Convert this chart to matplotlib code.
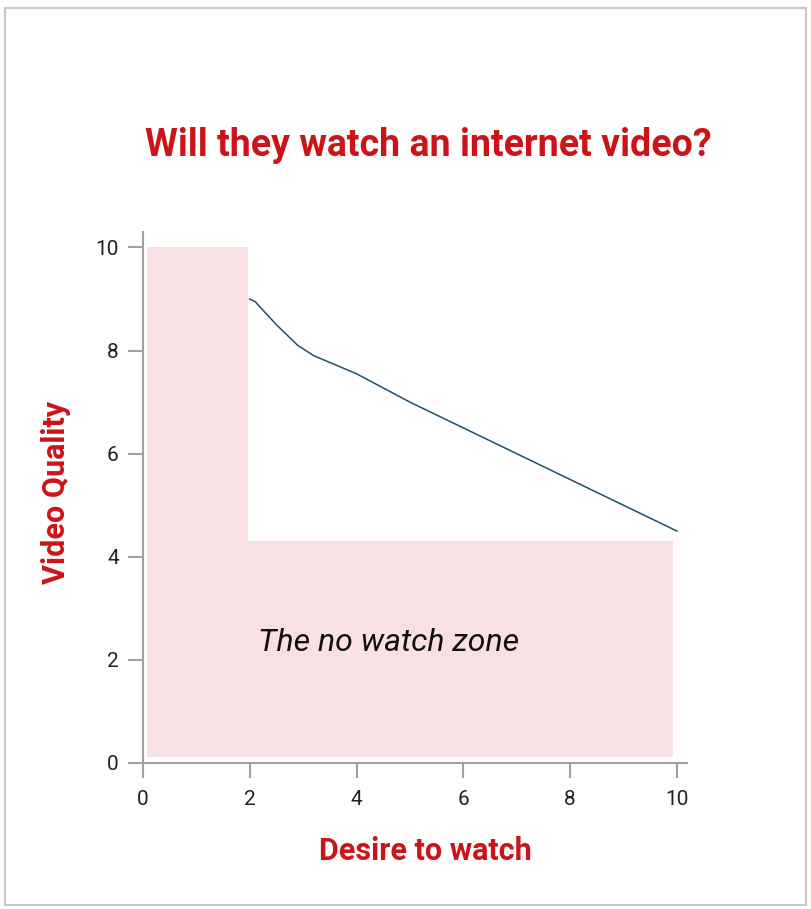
import matplotlib
matplotlib.use("Agg")
import matplotlib.pyplot as plt
from matplotlib.patches import Rectangle

# ---------------------------------------------------------------------------
# Data
# ---------------------------------------------------------------------------

# L-shaped "no watch zone": (x0, x1, y0, y1) for the two blocks
zone_x0 = [0.08, 1.97]
zone_x1 = [1.97, 9.93]
zone_y0 = [0.12, 0.12]
zone_y1 = [10.0, 4.3]

# threshold curve
desire = [2.0, 2.1, 2.5, 2.9, 3.2, 4.0, 5.0, 6.0, 7.0, 8.0, 9.0, 10.0]
quality = [9.0, 8.95, 8.5, 8.1, 7.9, 7.55, 7.0, 6.5, 6.0, 5.5, 5.0, 4.5]

ticks = [0, 2, 4, 6, 8, 10]

RED = "#cc1418"
PINK = "#f7e1e3"
GREY = "#a0a0a0"
COND = dict(family="Roboto", fontstretch="condensed")

# ---------------------------------------------------------------------------
# Figure
# ---------------------------------------------------------------------------

fig = plt.figure(figsize=(8.11, 9.09), dpi=100)
fig.patches.append(Rectangle((5 / 811, 4 / 909), 801 / 811, 897 / 909,
                             transform=fig.transFigure, fill=False,
                             edgecolor="#c8c8c8", linewidth=1.5))

ax = fig.add_axes([143 / 811, (909 - 763) / 909, (687 - 143) / 811, (763 - 232) / 909])
ax.set_xlim(0, 10.19)
ax.set_ylim(0, 10.3)

for x0, x1, y0, y1 in zip(zone_x0, zone_x1, zone_y0, zone_y1):
    ax.add_patch(Rectangle((x0, y0), x1 - x0, y1 - y0, facecolor=PINK,
                           edgecolor="none", zorder=0))

ax.plot(desire, quality, color="#1d4f6e", linewidth=1.1)

ax.text(4.6, 2.33, "The no watch zone", ha="center", va="center",
        fontsize=23, style="italic", color="#111111", **COND)

for side in ["top", "right"]:
    ax.spines[side].set_visible(False)
for side in ["left", "bottom"]:
    ax.spines[side].set_color(GREY)
    ax.spines[side].set_linewidth(1.5)

ax.set_xticks(ticks)
ax.set_yticks(ticks)
ax.tick_params(direction="out", length=10.5, width=1.5, color=GREY,
               labelcolor="#222222")
ax.tick_params(axis="x", pad=9)
ax.tick_params(axis="y", pad=7)
for lab in ax.get_xticklabels() + ax.get_yticklabels():
    lab.set_fontsize(15)
    lab.set_family("Roboto")
    lab.set_fontstretch("condensed")

ax.set_xlabel("Desire to watch", fontsize=22, fontweight="bold", color=RED,
              ha="center", va="center", **COND)
ax.set_ylabel("Video Quality", fontsize=22, fontweight="bold", color=RED,
              ha="center", va="center", **COND)
ax.xaxis.set_label_coords((425 - 143) / 544, (763 - 851) / 531)
ax.yaxis.set_label_coords((56 - 143) / 544, (763 - 492) / 531)

fig.text(428 / 811, 1 - 145 / 909, "Will they watch an internet video?",
         ha="center", va="center", fontsize=27, fontweight="bold",
         color=RED, **COND)

fig.savefig("out.png", dpi=100)
